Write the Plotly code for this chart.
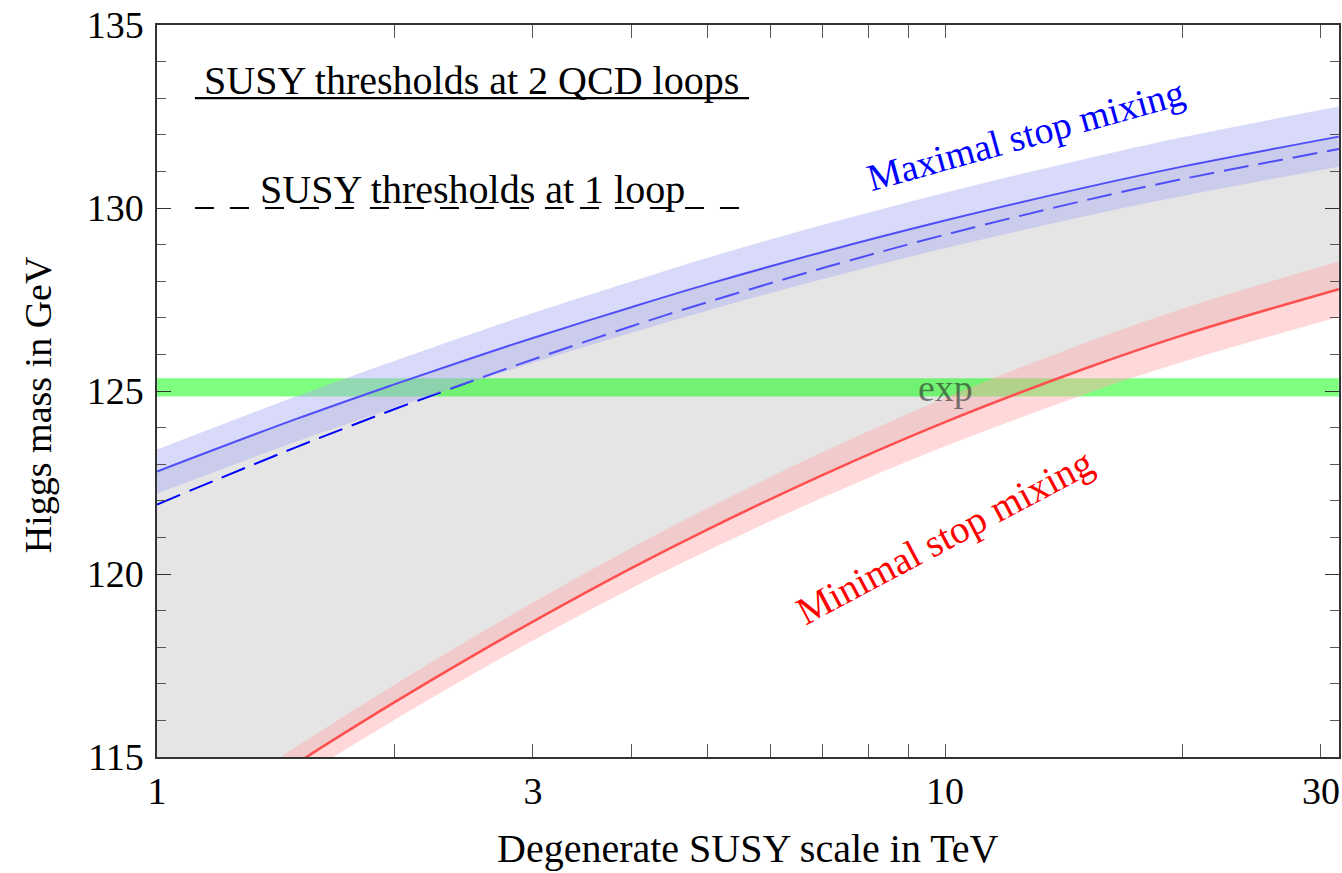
import numpy as np
import plotly.graph_objects as go

# ---- data ----
scale_tev = [1, 1.5, 2, 2.5, 3, 4, 5, 7, 10, 15, 20, 31.6]
max_mix_2loop = [122.8, 124.23, 125.18, 125.89, 126.45, 127.29, 127.92, 128.8, 129.66, 130.55, 131.13, 131.95]
max_mix_1loop = [121.9, 123.46, 124.5, 125.26, 125.86, 126.77, 127.43, 128.36, 129.27, 130.2, 130.79, 131.61]
min_mix_2loop = [112.27, 114.81, 116.49, 117.73, 118.7, 120.16, 121.22, 122.71, 124.15, 125.6, 126.52, 127.78]
max_band_half = [0.6, 0.62, 0.64, 0.66, 0.68, 0.7, 0.72, 0.74, 0.76, 0.78, 0.8, 0.82]
min_band_half = [0.45, 0.46, 0.48, 0.5, 0.52, 0.55, 0.58, 0.62, 0.66, 0.7, 0.73, 0.76]
exp_center = 125.1
exp_half = 0.25
x_ticks = [1, 3, 10, 30]
x_minor = [2, 4, 5, 6, 7, 8, 9, 20]

x = np.array(scale_tev)
ymax = np.array(max_mix_2loop)
ymax1 = np.array(max_mix_1loop)
ymin = np.array(min_mix_2loop)
hmax = np.array(max_band_half)
hmin = np.array(min_band_half)

FONT = "Liberation Serif"
fig = go.Figure()


def edge(yv, fill=None, color=None):
    fig.add_trace(go.Scatter(x=x, y=yv, mode="lines", line=dict(width=0, shape="spline"),
                             fill=fill, fillcolor=color, hoverinfo="skip", showlegend=False))


# gray region between minimal and maximal mixing
edge(ymin)
edge(ymax, "tonexty", "#e5e5e5")
# experimental band
fig.add_trace(go.Scatter(x=[x[0], x[-1]], y=[exp_center - exp_half] * 2, mode="lines",
                         line=dict(width=0), hoverinfo="skip", showlegend=False))
fig.add_trace(go.Scatter(x=[x[0], x[-1]], y=[exp_center + exp_half] * 2, mode="lines",
                         line=dict(width=0), fill="tonexty", fillcolor="rgba(0,255,0,0.5)",
                         hoverinfo="skip", showlegend=False))
# lines
fig.add_trace(go.Scatter(x=x, y=ymax1, mode="lines", line=dict(color="#0000ff", width=2, dash="25px,10px", shape="spline"),
                         showlegend=False))
fig.add_trace(go.Scatter(x=x, y=ymax, mode="lines", line=dict(color="#0000ff", width=2, shape="spline"),
                         showlegend=False))
fig.add_trace(go.Scatter(x=x, y=ymin, mode="lines", line=dict(color="#ff0000", width=2.6, shape="spline"),
                         showlegend=False))
# uncertainty bands drawn on top
edge(ymax - hmax)
edge(ymax + hmax, "tonexty", "rgba(173,173,245,0.46)")
edge(ymin - hmin)
edge(ymin + hmin, "tonexty", "rgba(255,173,173,0.46)")

# legend-like lines
L0, L1 = (195 - 157) / 1184, (750 - 157) / 1184
fig.add_shape(type="line", xref="paper", yref="y", x0=L0, x1=L1, y0=133, y1=133,
              line=dict(color="black", width=2.2))
fig.add_shape(type="line", xref="paper", yref="y", x0=L0, x1=L1, y0=130, y1=130,
              line=dict(color="black", width=2.2, dash="19px,16px"))


def px(xp):
    return (xp - 157) / 1184


def py(yp):
    return (757 - yp) / 732


ann = []
ann.append(dict(text="SUSY thresholds at 2 QCD loops", xref="paper", yref="paper",
                x=px(472), y=py(80), xanchor="center", yanchor="middle",
                showarrow=False, font=dict(family=FONT, size=40, color="black")))
ann.append(dict(text="SUSY thresholds at 1 loop", xref="paper", yref="paper",
                x=px(473), y=py(189), xanchor="center", yanchor="middle",
                showarrow=False, font=dict(family=FONT, size=40, color="black")))
ann.append(dict(text="Maximal stop mixing", xref="paper", yref="paper",
                x=px(1027), y=py(135), xanchor="center", yanchor="middle",
                textangle=-15.5, showarrow=False, font=dict(family=FONT, size=38, color="#0000ff")))
ann.append(dict(text="Minimal stop mixing", xref="paper", yref="paper",
                x=px(946), y=py(537), xanchor="center", yanchor="middle",
                textangle=-28, showarrow=False, font=dict(family=FONT, size=39, color="#ff0000")))
ann.append(dict(text="exp", xref="paper", yref="paper",
                x=px(947), y=py(388), xanchor="center", yanchor="middle",
                showarrow=False, font=dict(family=FONT, size=38, color="rgba(40,40,40,0.6)")))
ann.append(dict(text="Higgs mass in GeV", xref="paper", yref="paper",
                x=px(38), y=py(405), xanchor="center", yanchor="middle",
                textangle=-90, showarrow=False, font=dict(family=FONT, size=38, color="black")))
ann.append(dict(text="Degenerate SUSY scale in TeV", xref="paper", yref="paper",
                x=0.5, y=py(849), xanchor="center", yanchor="middle",
                showarrow=False, font=dict(family=FONT, size=40, color="black")))

fig.update_layout(
    width=1342, height=873,
    margin=dict(l=157, r=1, t=25, b=116),
    paper_bgcolor="white", plot_bgcolor="white",
    font=dict(family=FONT, size=38, color="black"),
    annotations=ann, showlegend=False,
)
fig.update_xaxes(type="log", range=[0, 1.5], tickvals=x_ticks, ticktext=[str(t) for t in x_ticks],
                 ticks="inside", ticklen=13, tickwidth=1.2, tickcolor="#555", ticklabeloverflow="allow",
                 showline=True, linecolor="#333", linewidth=1.5, mirror="allticks",
                 showgrid=False, zeroline=False,
                 minor=dict(tickvals=x_minor, ticks="inside", ticklen=13, tickwidth=1.2, tickcolor="#555", showgrid=False))
fig.update_yaxes(range=[115, 135], tickvals=[115, 120, 125, 130, 135],
                 ticks="inside", ticklen=14, tickwidth=1.2, tickcolor="#333", ticklabeloverflow="allow",
                 showline=True, linecolor="#333", linewidth=1.5, mirror="allticks",
                 showgrid=False, zeroline=False, ticklabelstandoff=4,
                 minor=dict(dtick=1, ticks="inside", ticklen=9, tickwidth=1.2, tickcolor="#555", showgrid=False))

fig.write_html("out.html", config={"displayModeBar": False},
               post_script="document.body.style.margin='0';document.documentElement.style.overflow='hidden';document.body.style.overflow='hidden';")
